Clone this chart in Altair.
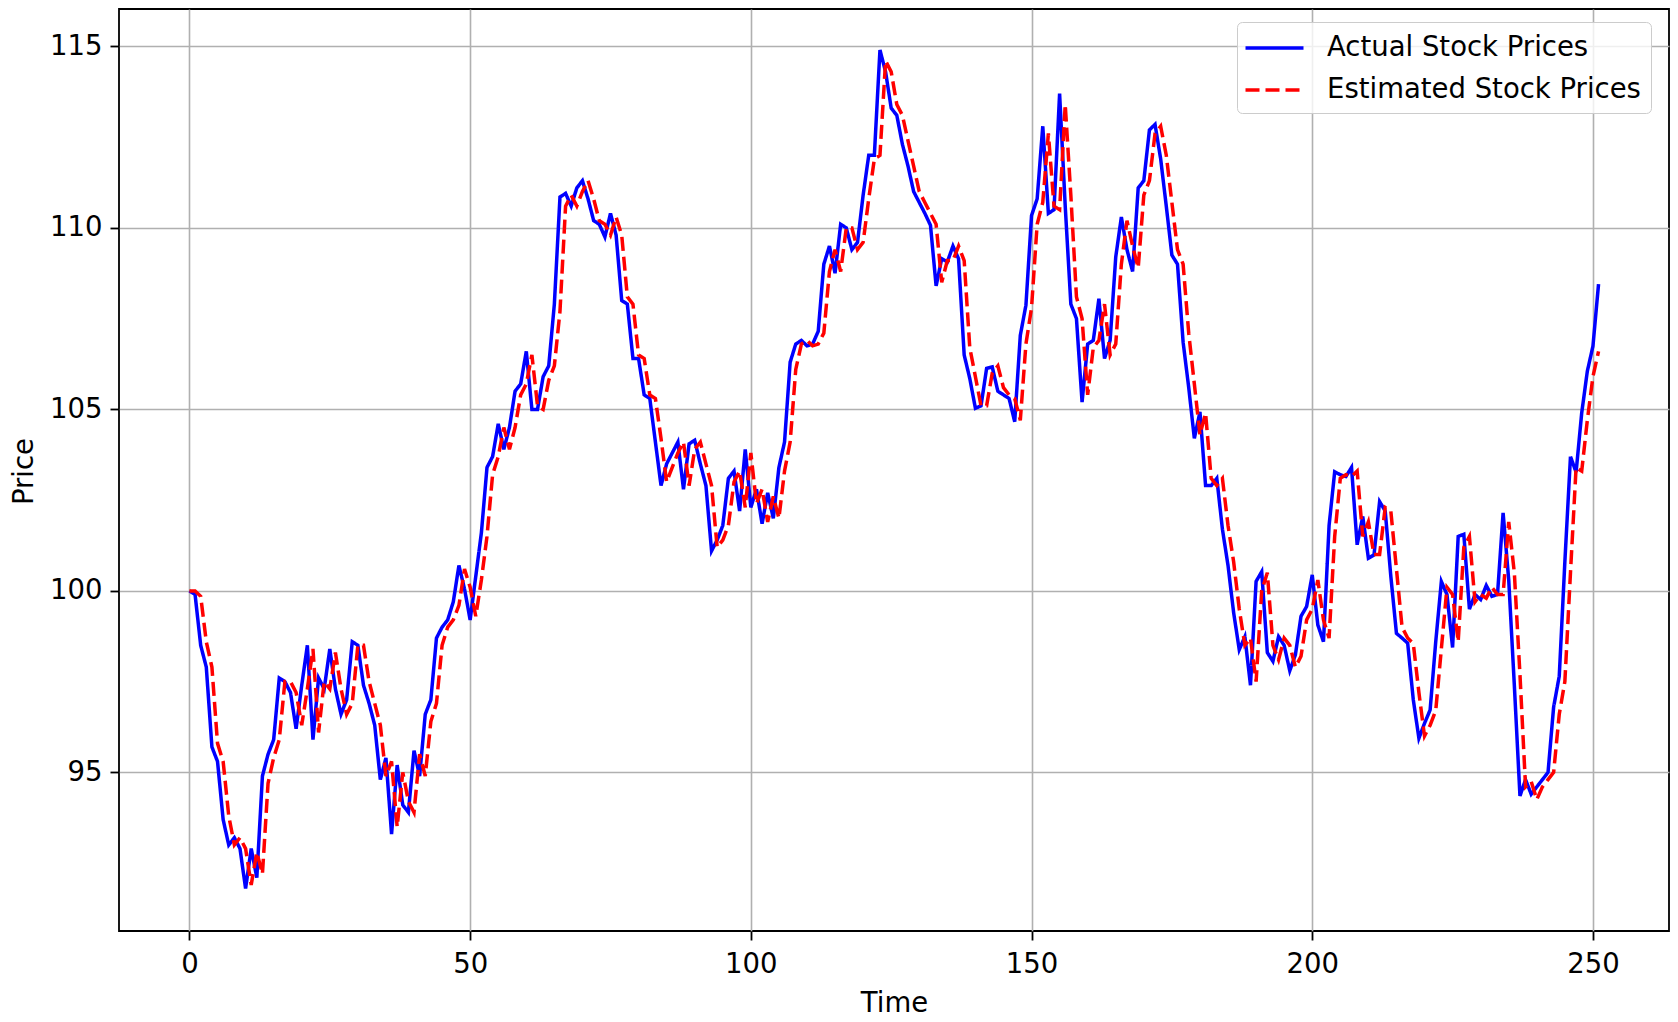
import altair as alt
import pandas as pd

FONT = "DejaVu Sans"
FS = 27.5

series_names = ["Actual Stock Prices", "Estimated Stock Prices"]
series_colors = ["#0000ff", "#ff0000"]
x_ticks = [0, 50, 100, 150, 200, 250]
y_ticks = [95, 100, 105, 110, 115]

time = list(range(252))

actual = [
    100.0, 99.9, 98.5, 97.9, 95.7, 95.3, 93.7, 93.0, 93.2, 92.9,
    91.8, 92.9, 92.1, 94.9, 95.5, 95.9, 97.6, 97.5, 97.2, 96.2,
    97.4, 98.5, 95.9, 97.6, 97.3, 98.4, 97.3, 96.6, 97.0, 98.6,
    98.5, 97.4, 96.9, 96.3, 94.8, 95.4, 93.3, 95.2, 94.1, 93.9,
    95.6, 94.9, 96.6, 97.0, 98.7, 99.0, 99.2, 99.7, 100.7, 100.05,
    99.2, 100.4, 101.6, 103.4, 103.7, 104.6, 103.9, 104.5, 105.5, 105.7,
    106.6, 105.0, 105.0, 105.9, 106.2, 107.9, 110.85, 110.95, 110.6, 111.1,
    111.3, 110.8, 110.2, 110.1, 109.75, 110.4, 109.8, 108.0, 107.9, 106.4,
    106.4, 105.4, 105.3, 104.1, 102.9, 103.5, 103.8, 104.1, 102.8, 104.05,
    104.15, 103.5, 102.9, 101.1, 101.4, 101.8, 103.1, 103.3, 102.2, 103.9,
    102.3, 102.8, 101.85, 102.7, 102.0, 103.4, 104.1, 106.3, 106.8, 106.9,
    106.75, 106.8, 107.15, 109.0, 109.5, 108.75, 110.1, 110.0, 109.4, 109.6,
    110.9, 112.0, 112.0, 114.9, 114.3, 113.3, 113.1, 112.3, 111.7, 111.0,
    110.7, 110.4, 110.07, 108.4, 109.15, 109.06, 109.5, 109.15, 106.5, 105.85,
    105.03, 105.1, 106.13, 106.17, 105.5, 105.4, 105.3, 104.66, 107.04, 107.87,
    110.34, 110.8, 112.8, 110.4, 110.5, 113.7, 110.6, 107.9, 107.5, 105.2,
    106.8, 106.9, 108.05, 106.4, 106.9, 109.2, 110.3, 109.4, 108.8, 111.1,
    111.3, 112.7, 112.85, 111.9, 110.6, 109.25, 109.0, 106.85, 105.6, 104.2,
    104.93, 102.9, 102.9, 103.1, 101.7, 100.7, 99.4, 98.38, 98.74, 97.4,
    100.26, 100.53, 98.3, 98.06, 98.74, 98.5, 97.8, 98.24, 99.3, 99.57,
    100.44, 99.06, 98.6, 101.8, 103.28, 103.2, 103.15, 103.4, 101.27, 102.05,
    100.9, 100.99, 102.46, 102.2, 100.4, 98.83, 98.7, 98.56, 97.0, 95.94,
    96.35, 96.72, 98.6, 100.26, 99.9, 98.44, 101.5, 101.56, 99.5, 99.9,
    99.76, 100.15, 99.85, 99.9, 102.15, 100.3, 97.4, 94.35, 94.8, 94.4,
    94.6, 94.8, 95.0, 96.8, 97.65, 100.8, 103.7, 103.27, 104.9, 106.05,
    106.74, 108.45,
]

estimated = [
    100.0, 100.0, 99.85, 98.6, 97.9, 95.8, 95.3, 93.8, 93.0, 93.2,
    92.9, 91.9, 92.8, 92.2, 94.7, 95.4, 95.9, 97.5, 97.5, 97.2,
    96.3, 97.3, 98.4, 96.1, 97.5, 97.3, 98.3, 97.3, 96.6, 96.9,
    98.5, 98.5, 97.5, 96.9, 96.3, 94.9, 95.3, 93.5, 95.0, 94.2,
    93.9, 95.5, 94.9, 96.4, 96.9, 98.5, 99.0, 99.2, 99.6, 100.6,
    100.1, 99.3, 100.3, 101.5, 103.2, 103.7, 104.5, 103.9, 104.5, 105.4,
    105.7, 106.5, 105.1, 105.0, 105.8, 106.2, 107.7, 110.6, 110.9, 110.6,
    111.0, 111.3, 110.8, 110.2, 110.1, 109.8, 110.3, 109.8, 108.1, 107.9,
    106.5, 106.4, 105.4, 105.3, 104.2, 103.0, 103.4, 103.8, 104.1, 102.9,
    103.9, 104.1, 103.5, 102.9, 101.2, 101.4, 101.8, 103.0, 103.3, 102.3,
    103.8, 102.4, 102.8, 101.9, 102.6, 102.0, 103.3, 104.1, 106.1, 106.8,
    106.9, 106.75, 106.8, 107.1, 108.8, 109.4, 108.8, 110.0, 110.0, 109.4,
    109.6, 110.8, 111.9, 112.0, 114.6, 114.3, 113.4, 113.1, 112.4, 111.7,
    111.0, 110.7, 110.4, 110.1, 108.5, 109.1, 109.1, 109.5, 109.1, 106.7,
    105.9, 105.1, 105.1, 106.0, 106.2, 105.6, 105.4, 105.3, 104.7, 106.8,
    107.8, 110.1, 110.7, 112.6, 110.6, 110.5, 113.4, 110.9, 108.1, 107.5,
    105.4, 106.7, 106.9, 107.9, 106.5, 106.8, 109.0, 110.2, 109.5, 108.9,
    110.9, 111.3, 112.6, 112.8, 112.0, 110.7, 109.4, 109.0, 107.1, 105.7,
    104.3, 104.9, 103.1, 102.9, 103.1, 101.8, 100.8, 99.5, 98.5, 98.7,
    97.5, 100.0, 100.5, 98.5, 98.1, 98.7, 98.5, 97.9, 98.2, 99.2,
    99.5, 100.3, 99.2, 98.7, 101.5, 103.1, 103.2, 103.15, 103.3, 101.5,
    101.9, 101.0, 101.0, 102.3, 102.2, 100.6, 99.0, 98.7, 98.55, 97.2,
    96.0, 96.3, 96.7, 98.4, 100.1, 99.9, 98.6, 101.2, 101.5, 99.7,
    99.9, 99.8, 100.1, 99.9, 99.9, 101.9, 100.5, 97.7, 94.6, 94.75,
    94.25, 94.6, 94.8, 95.0, 96.6, 97.5, 100.5, 103.4, 103.3, 104.7,
    105.9, 106.6,
]

df = pd.DataFrame({
    "Time": time + time,
    "Price": actual + estimated,
    "Series": [series_names[0]] * len(actual) + [series_names[1]] * len(estimated),
})

legend_cfg = dict(
    title=None,
    orient="none",
    legendX=1118,
    legendY=13,
    symbolType="M-2,0H2",
    symbolSize=841,
    symbolStrokeWidth=3.5,
    symbolOffset=11.5,
    labelFontSize=FS,
    labelFont=FONT,
    labelColor="#000000",
    labelOffset=36,
    labelLimit=600,
    rowPadding=12,
    padding=9.5,
    fillColor="rgba(255,255,255,0.8)",
    strokeColor="#cccccc",
    cornerRadius=5,
)

chart = alt.Chart(df).mark_line(strokeWidth=3.5, clip=True).encode(
    x=alt.X(
        "Time:Q",
        scale=alt.Scale(domain=[-12.55, 263.55], nice=False, zero=False),
        axis=alt.Axis(
            values=x_ticks, title="Time", format="d", labelPadding=10,
            titleX=775, titleY=72, titleBaseline="middle", titleAlign="center",
        ),
    ),
    y=alt.Y(
        "Price:Q",
        scale=alt.Scale(domain=[90.63, 116.03], nice=False, zero=False),
        axis=alt.Axis(
            values=y_ticks, title="Price", format="d",
            titleAngle=270, titleX=-95, titleY=462,
            titleBaseline="middle", titleAlign="center",
        ),
    ),
    color=alt.Color(
        "Series:N",
        scale=alt.Scale(domain=series_names, range=series_colors),
        legend=alt.Legend(**legend_cfg),
    ),
    strokeDash=alt.StrokeDash(
        "Series:N",
        scale=alt.Scale(domain=series_names, range=[[1, 0], [14, 6]]),
        legend=alt.Legend(**legend_cfg),
    ),
).properties(
    width=1550,
    height=922,
    autosize=alt.AutoSizeParams(type="none"),
    padding={"left": 111, "top": 1, "right": 1, "bottom": 90},
).configure_view(
    stroke="#000000", strokeWidth=1.8
).configure_axis(
    domain=False,
    grid=True,
    gridColor="#b0b0b0",
    gridWidth=1.6,
    tickColor="#000000",
    tickWidth=1.8,
    tickSize=9,
    labelFont=FONT,
    labelFontSize=FS,
    labelColor="#000000",
    labelPadding=8,
    labelFlush=False,
    labelOverlap=False,
    titleFont=FONT,
    titleFontSize=FS,
    titleFontWeight="normal",
    titleColor="#000000",
)

chart.save("out.html", embed_options={"renderer": "svg", "actions": False})
